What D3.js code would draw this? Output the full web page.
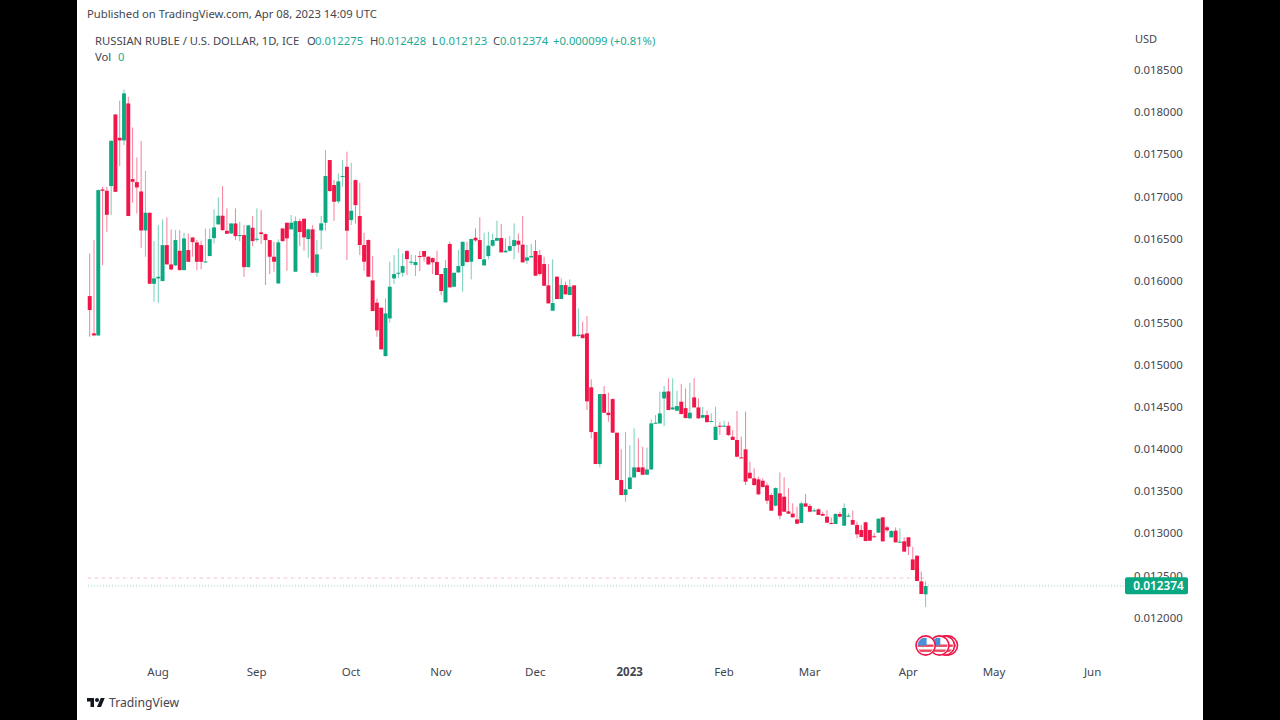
<!DOCTYPE html>
<html>
<head>
<meta charset="utf-8">
<script src="https://cdnjs.cloudflare.com/ajax/libs/d3/7.8.5/d3.min.js"></script>
<style>
  html, body { margin: 0; padding: 0; background: #000; overflow: hidden; }
  svg { display: block; }
  text { font-family: "Noto Sans", sans-serif; }
</style>
</head>
<body>
<div id="chart"></div>
<script>
// prices are in millionths of a USD, one entry per trading day from Jul 8 2022
const opens = [15816,15373,15349,17082,17066,17122,17972,17695,17664,18103,17205,17169,17058,16595,16805,15962,16026,15994,16421,16192,
  16180,16354,16124,16362,16512,16453,16421,16215,16291,16504,16667,16770,16591,16560,16678,16528,16540,16160,16627,16485,
  16572,16552,16481,16283,15966,16619,16687,16608,16105,16706,16734,16493,16608,16093,16596,16687,17431,17134,16940,17233,
  17351,16718,17193,16766,16422,16481,16002,15737,15678,15104,15551,16026,16081,16093,16350,16216,16184,16291,16351,16283,
  16267,16220,16078,15741,16434,15927,16097,16173,16362,16224,16509,16481,16180,16291,16414,16473,16505,16335,16355,16410,
  16473,16426,16236,16275,16351,16303,16196,15943,15642,16046,15781,15947,15828,15943,15341,15361,15373,14732,14202,13822,
  14653,14431,14593,14194,13632,13454,13525,13663,13782,13782,13695,13758,14301,14304,14601,14684,14471,14455,14562,14486,
  14364,14613,14494,14372,14403,14320,14107,14277,14265,14277,14146,14107,13901,13996,13719,13652,13640,13624,13569,13454,
  13328,13474,13434,13260,13233,13165,13122,13355,13324,13260,13284,13229,13197,13122,13110,13229,13090,13201,13157,13098,
  13039,13130,13039,12964,13007,13189,13070,12952,13031,12892,12904,12952,12690,12734,12429,12275];
const highs = [16322,16481,17082,17114,17114,17660,17972,18135,18269,18182,17818,17462,17656,17304,16805,16469,16659,16726,16750,16607,
  16599,16599,16568,16560,16512,16481,16473,16619,16619,16845,16987,17122,16857,16678,16857,16698,16659,16659,16766,16857,
  16837,16560,16481,16461,16489,16619,16687,16778,16758,16734,16734,16619,16659,16481,16766,17549,17431,17193,17272,17431,
  17530,17399,17201,17161,16568,16489,16291,15788,15678,15788,16224,16303,16382,16323,16362,16303,16303,16351,16351,16291,
  16275,16355,16078,16244,16461,16093,16362,16461,16461,16501,16620,16750,16568,16580,16560,16711,16671,16501,16529,16679,
  16560,16766,16422,16434,16481,16362,16283,16196,16252,16054,16026,15987,16014,15943,15670,15511,15579,14827,14202,14653,
  14748,14669,14601,14194,13996,14202,14047,14245,14126,14027,14016,14352,14403,14680,14748,14839,14839,14692,14771,14720,
  14787,14839,14601,14502,14455,14423,14502,14324,14336,14324,14225,14451,14147,14443,13850,13771,13672,13652,13601,13474,
  13545,13723,13664,13533,13355,13316,13375,13466,13347,13296,13296,13256,13276,13189,13237,13256,13355,13237,13268,13138,
  13098,13138,13039,13000,13177,13189,13086,13039,13070,13059,12952,12952,12841,12734,12544,12428];
const lows = [15333,15341,15341,16184,16580,16777,17054,17359,17608,16766,16924,16797,16390,16283,15962,15749,15737,15994,16192,16124,
  16172,16124,16124,16223,16283,16124,16132,16215,16291,16441,16667,16591,16552,16552,16481,16465,16045,16156,16410,16461,
  16433,15947,16077,16105,15966,16461,16117,16608,16105,16410,16354,16271,16093,16046,16370,16592,17055,16710,16916,17114,
  16244,16659,16679,16303,16117,16046,15638,15333,15183,15096,15500,15959,16026,16046,16065,16184,16054,16113,16224,16184,
  16078,16066,15828,15741,15919,15919,16093,15868,16216,16014,16461,16252,16180,16252,16402,16473,16335,16335,16343,16252,
  16331,16216,16196,16275,16058,16058,15939,15729,15642,15781,15781,15836,15828,15338,15333,15313,14463,14126,13822,13782,
  14431,14324,14194,13632,13454,13375,13521,13663,13727,13691,13695,13750,14301,14304,14273,14463,14463,14455,14415,14364,
  14364,14494,14364,14364,14312,14320,14107,14166,14265,14154,14107,13902,13890,13573,13652,13561,13454,13545,13347,13268,
  13316,13165,13256,13229,13189,13110,13118,13316,13248,13256,13217,13205,13118,13110,13110,13189,13086,13197,13098,12940,
  12952,12908,12908,12952,13007,12900,13019,12948,12892,12892,12778,12742,12564,12433,12279,12123];
const closes = [15650,15349,17074,17066,16781,17660,17054,17664,18222,16766,17173,17106,16595,16805,15962,16026,16045,16421,16192,16132,
  16481,16124,16500,16223,16457,16223,16223,16227,16492,16631,16770,16599,16556,16678,16528,16540,16160,16655,16469,16497,
  16552,16481,16283,16224,16453,16469,16501,16687,16706,16576,16513,16608,16093,16311,16679,17241,17063,16936,17177,17241,
  16592,16829,16896,16422,16224,16046,15638,15409,15183,15610,15927,16077,16093,16172,16255,16224,16220,16279,16283,16192,
  16216,16066,15876,16149,15919,16093,16173,16461,16220,16493,16477,16256,16252,16414,16481,16505,16335,16355,16410,16481,
  16426,16216,16275,16291,16058,16078,15939,15729,15733,15781,15947,15836,15927,15338,15357,15317,14566,14202,13822,14653,
  14431,14403,14194,13632,13454,13521,13663,13782,13727,13695,13758,14304,14312,14423,14680,14463,14494,14510,14415,14368,
  14431,14494,14364,14403,14320,14332,14265,14265,14277,14166,14107,13909,13890,13613,13652,13573,13462,13549,13387,13268,
  13537,13209,13256,13233,13189,13114,13355,13316,13256,13272,13217,13209,13126,13114,13229,13197,13300,13209,13102,12987,
  12956,12908,12912,12956,13173,12904,13035,13027,12892,12900,12782,12841,12564,12433,12279,12374];

// bar index of the first trading day of each month
const monthBars = [16, 39, 61, 82, 104, 126, 148, 168, 191, 211, 234];
const monthLabels = ["Aug", "Sep", "Oct", "Nov", "Dec", "2023", "Feb", "Mar", "Apr", "May", "Jun"];
const priceTicks = [18500,18000,17500,17000,16500,16000,15500,15000,14500,14000,13500,13000,12500,12000];
const lastPrice = 12374;
const prevLevel = 12469;
const eventBars = [195, 198.2, 199.5, 200.2];

const upColor = "#0aa882";
const downColor = "#f01548";
const textColor = "#43464f";

const svg = d3.select("#chart").append("svg").attr("width", 1280).attr("height", 720);

// page with the black pillarbox bands
svg.append("rect").attr("width", 1280).attr("height", 720).attr("fill", "#000");
svg.append("rect").attr("x", 77).attr("width", 1126).attr("height", 720).attr("fill", "#fff");

const xScale = d3.scaleLinear().domain([0, 234]).range([89.7, 1092.8]);
const yScale = d3.scaleLinear().domain([12000, 18500]).range([617.5, 70]);
const bodyWidth = 3.9;

const defs = svg.append("defs");
// the reference is a soft screenshot, so the candles get a very light blur
defs.append("filter").attr("id", "soft").append("feGaussianBlur").attr("stdDeviation", 0.3);

// level lines behind the candles
function levelLine(price, x2, color, opacity, dash, offset) {
  svg.append("line")
    .attr("x1", 88).attr("x2", x2)
    .attr("y1", yScale(price)).attr("y2", yScale(price))
    .attr("stroke", color).attr("stroke-opacity", opacity)
    .attr("stroke-dasharray", dash).attr("stroke-dashoffset", offset);
}
levelLine(prevLevel, xScale(195), upColor, 0.12, "1 3", 5);
levelLine(prevLevel, xScale(195), downColor, 0.28, "3 4", 0);
levelLine(lastPrice, 1125, upColor, 0.45, "1 2", 0);

const candles = d3.range(opens.length);
const candleColor = (i) => (closes[i] >= opens[i] ? upColor : downColor);
const candleG = svg.append("g").attr("filter", "url(#soft)");

candleG.append("g").selectAll("line").data(candles).enter().append("line")
  .attr("x1", (i) => xScale(i)).attr("x2", (i) => xScale(i))
  .attr("y1", (i) => yScale(highs[i])).attr("y2", (i) => yScale(lows[i]))
  .attr("stroke", candleColor).attr("stroke-opacity", 0.55).attr("stroke-width", 1);

candleG.append("g").selectAll("rect").data(candles).enter().append("rect")
  .attr("x", (i) => xScale(i) - bodyWidth / 2)
  .attr("width", bodyWidth)
  .attr("y", (i) => yScale(Math.max(opens[i], closes[i])))
  .attr("height", (i) => Math.max(1, Math.abs(yScale(opens[i]) - yScale(closes[i]))))
  .attr("fill", candleColor);

// price axis
const yAxis = d3.axisRight(yScale)
  .tickValues(priceTicks)
  .tickSize(0)
  .tickPadding(0)
  .tickFormat((d) => (d / 1e6).toFixed(6));
const yAxisG = svg.append("g").attr("transform", "translate(1134,0)").call(yAxis);
yAxisG.select(".domain").remove();
yAxisG.selectAll("text").attr("fill", textColor).attr("font-size", 11.4);

// time axis
const xAxis = d3.axisBottom(xScale)
  .tickValues(monthBars)
  .tickSize(0)
  .tickPadding(0)
  .tickFormat((d, i) => monthLabels[i]);
const xAxisG = svg.append("g").attr("transform", "translate(-0.7,668)").call(xAxis);
xAxisG.select(".domain").remove();
xAxisG.selectAll("text")
  .attr("fill", textColor).attr("font-size", 11.5)
  .attr("font-weight", (d, i) => (monthLabels[i] === "2023" ? 700 : 400));

// last price tag
svg.append("rect")
  .attr("x", 1125).attr("y", yScale(lastPrice) - 8.7)
  .attr("width", 63).attr("height", 17).attr("rx", 2)
  .attr("fill", upColor);
svg.append("text")
  .attr("x", 1158.5).attr("y", yScale(lastPrice) + 4.2)
  .attr("text-anchor", "middle").attr("fill", "#fff")
  .attr("font-size", 11.8).attr("font-weight", 600)
  .text((lastPrice / 1e6).toFixed(6));

svg.append("text").attr("x", 1135).attr("y", 43)
  .attr("fill", textColor).attr("font-size", 11).text("USD");

// header texts
function label(x, y, str, color) {
  svg.append("text").attr("x", x).attr("y", y)
    .attr("fill", color || textColor).attr("font-size", 11.25).text(str);
}
const legendGreen = "#22ab94";
label(87, 18, "Published on TradingView.com, Apr 08, 2023 14:09 UTC");
label(95, 45, "RUSSIAN RUBLE / U.S. DOLLAR, 1D, ICE");
label(307, 45, "O");
label(315, 45, "0.012275", legendGreen);
label(370, 45, "H");
label(378, 45, "0.012428", legendGreen);
label(432, 45, "L");
label(439, 45, "0.012123", legendGreen);
label(493, 45, "C");
label(500, 45, "0.012374", legendGreen);
label(553, 45, "+0.000099 (+0.81%)", legendGreen);
label(95, 61, "Vol");
label(118, 61, "0", legendGreen);

// economic event badges, right most drawn first
defs.append("clipPath").attr("id", "badge-clip").append("circle").attr("r", 8);
const badges = svg.append("g").selectAll("g").data(eventBars.slice().reverse()).enter().append("g")
  .attr("transform", (d) => "translate(" + xScale(d) + ",645.5)");
badges.append("circle").attr("r", 9.6).attr("fill", "#fff").attr("stroke", downColor).attr("stroke-width", 1.6);
const flag = badges.append("g").attr("clip-path", "url(#badge-clip)");
flag.append("rect").attr("x", -9).attr("y", -9).attr("width", 18).attr("height", 18).attr("fill", "#fff");
[-1, 4].forEach((dy) => {
  flag.append("rect").attr("x", -9).attr("y", dy).attr("width", 18).attr("height", 2.4).attr("fill", "#e8485f");
});
flag.append("rect").attr("x", -8).attr("y", -8).attr("width", 9).attr("height", 8).attr("fill", "#4a90d9");

// logo
const logo = svg.append("g").attr("transform", "translate(87,696) scale(0.5)").attr("fill", "#131722");
logo.append("path").attr("d", "M14 22H7V11H0V4h14v18zM28 22h-8l7.5-18h8L28 22z");
logo.append("circle").attr("cx", 20).attr("cy", 8).attr("r", 4);
svg.append("text").attr("x", 109).attr("y", 707)
  .attr("fill", textColor).attr("font-size", 12.2).text("TradingView");
</script>
</body>
</html>
